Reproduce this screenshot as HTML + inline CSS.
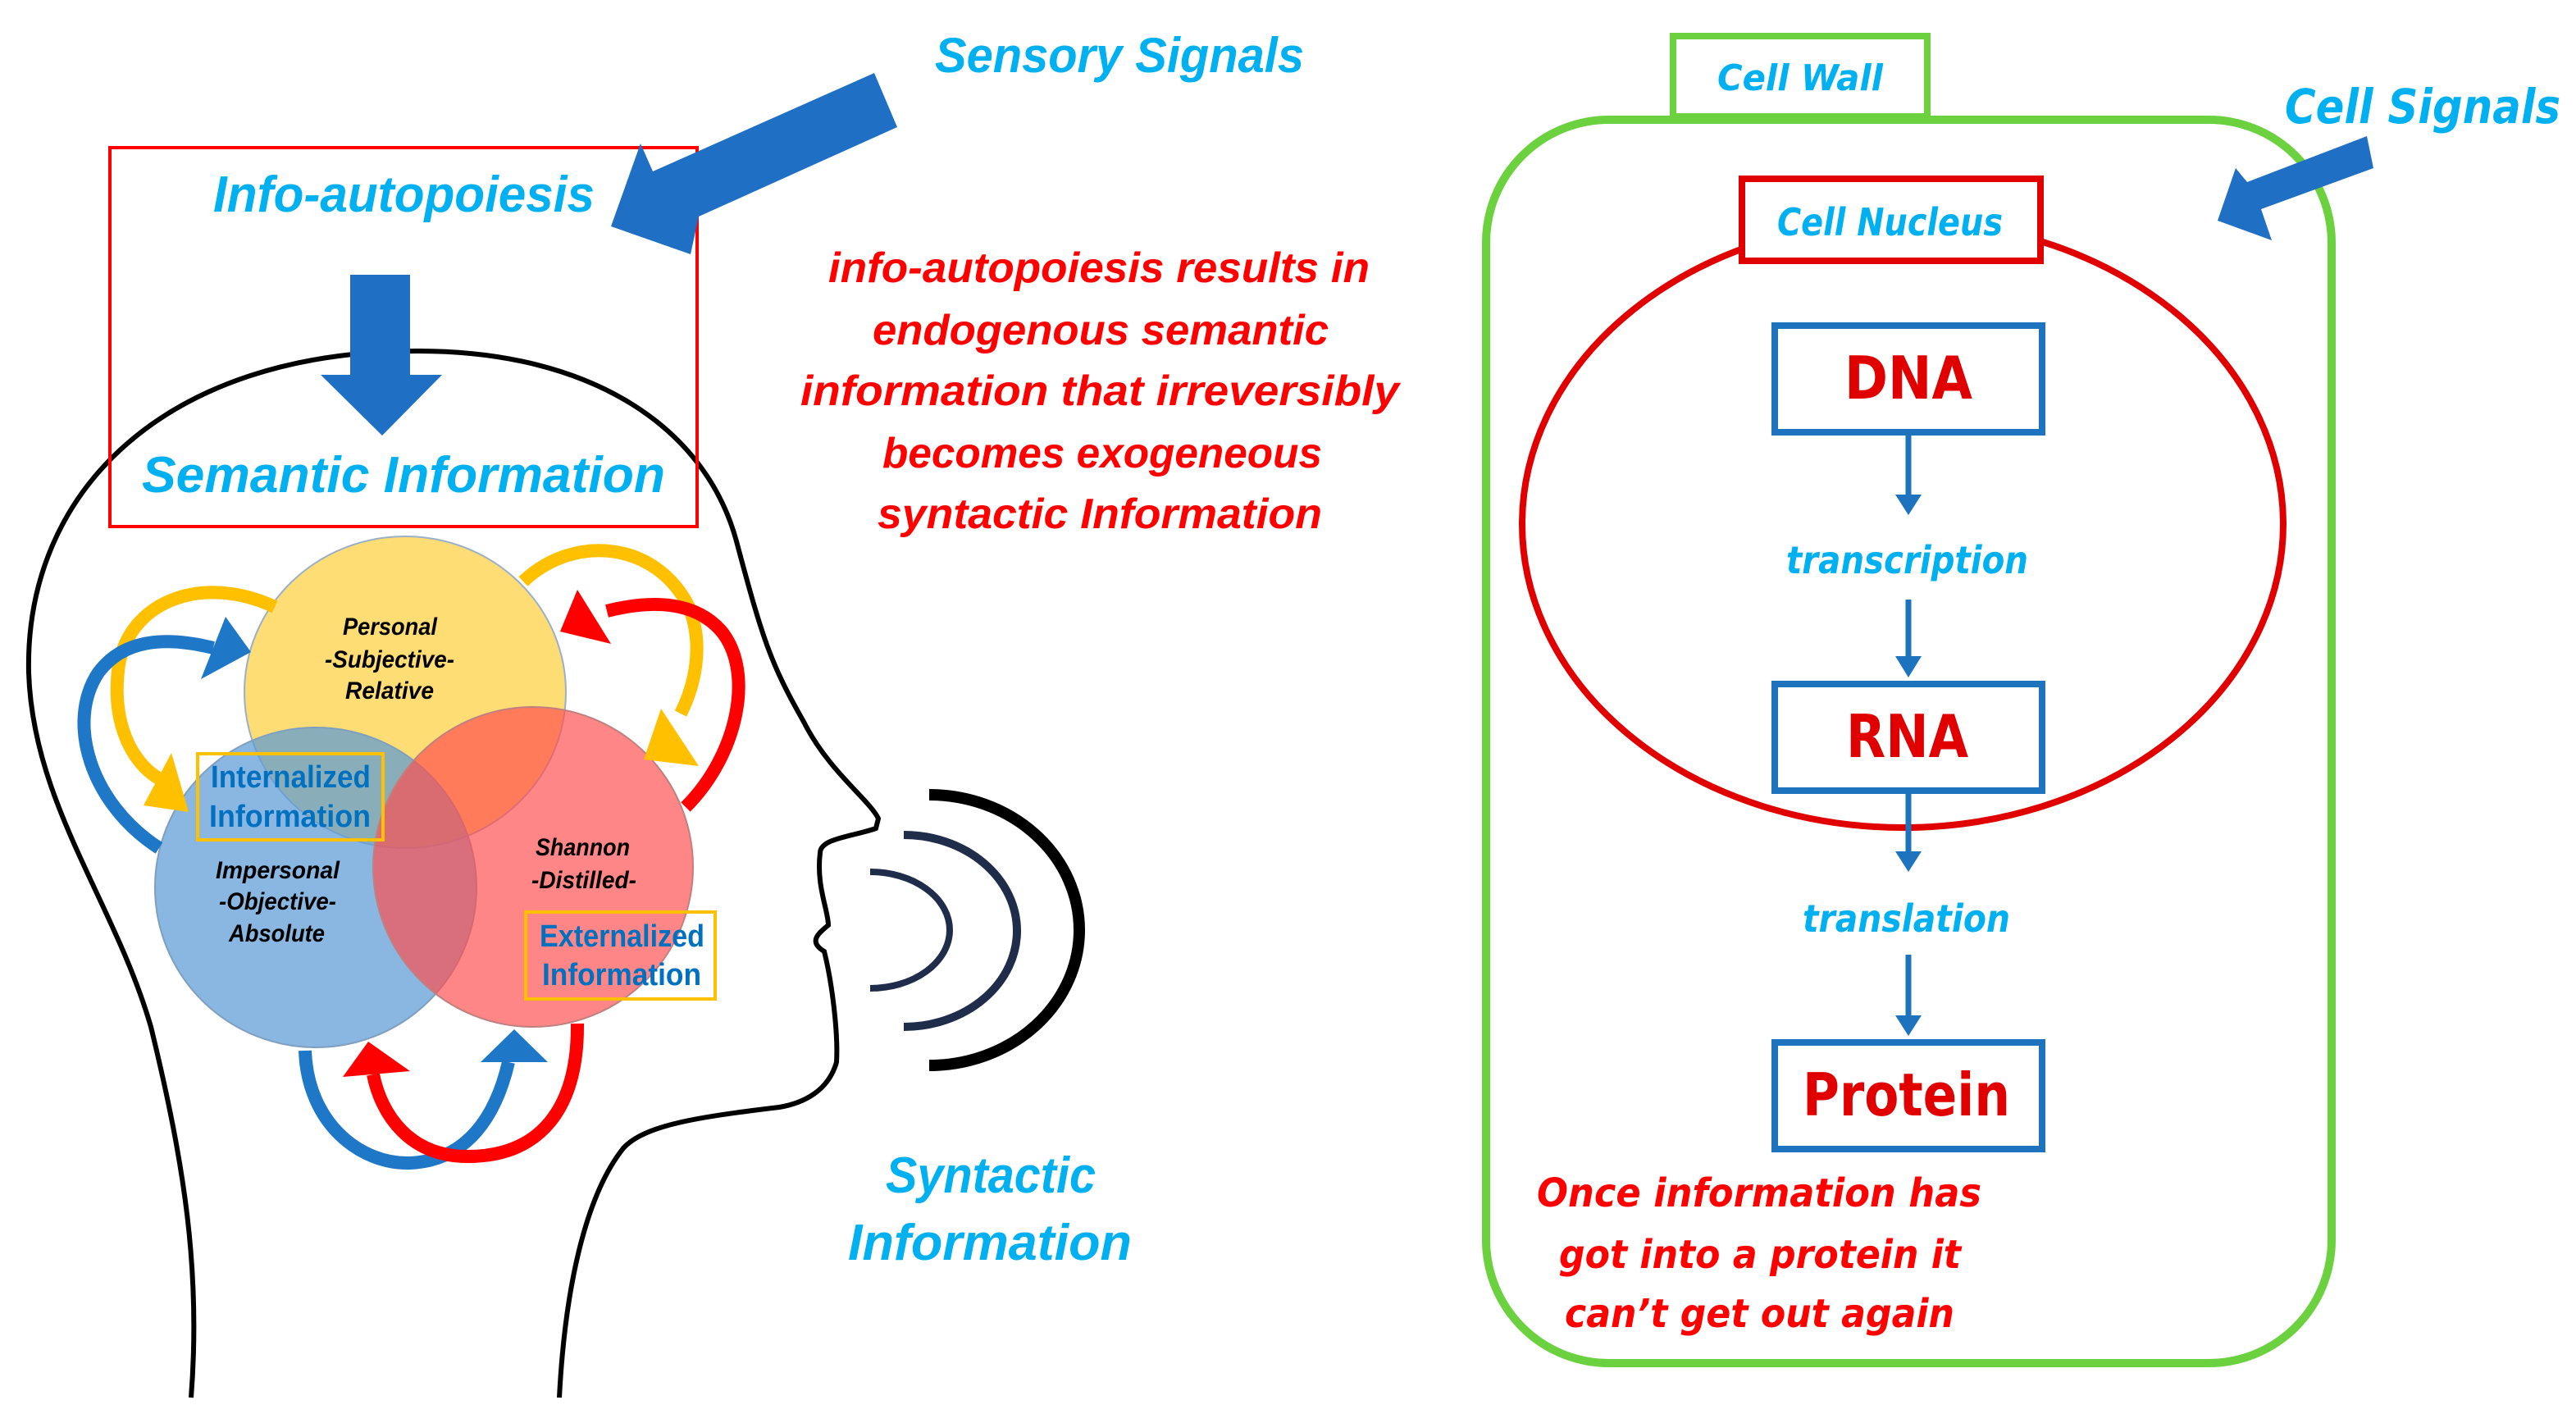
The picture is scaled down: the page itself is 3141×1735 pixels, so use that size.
<!DOCTYPE html>
<html><head><meta charset="utf-8"><style>html,body{margin:0;padding:0;background:#fff}svg{display:block}</style></head>
<body>
<svg width="3141" height="1735" viewBox="0 0 3141 1735" xmlns="http://www.w3.org/2000/svg">
<rect width="3141" height="1735" fill="#fff"/>
<!-- head outline -->
<path d="M233,1704 C245,1550 225,1420 184,1252 C140,1100 40,980 35,820 C30,600 200,428 510,428 C720,428 860,520 898,660 C930,780 940,810 980,880 C1010,940 1060,975 1071,998 L1068,1010 C1040,1020 1000,1022 1000,1040 C995,1080 1010,1110 1010,1128 C998,1138 985,1148 1005,1160 C1015,1200 1022,1260 1020,1295 C1010,1330 980,1345 950,1350 C850,1362 785,1372 760,1400 C720,1450 690,1550 682,1704" fill="none" stroke="#000" stroke-width="6"/>
<!-- red box -->
<rect x="134" y="180" width="716" height="462" fill="none" stroke="#f00" stroke-width="4"/>
<!-- sensory arrow -->
<polygon points="745,276 781,175 796,209 1066,89 1094,155 852,264 842,310" fill="#1f6fc5"/>
<!-- down arrow -->
<polygon points="427,335 500,335 500,457 539,457 466,531 391,457 427,457" fill="#1f6fc5"/>
<g font-family="'Liberation Sans',sans-serif" font-style="italic" font-weight="bold">
<text x="1140" y="88" font-size="60" fill="#00b0f0" textLength="450" lengthAdjust="spacingAndGlyphs">Sensory Signals</text>
<text x="260" y="258" font-size="62" fill="#00b0f0" textLength="465" lengthAdjust="spacingAndGlyphs">Info-autopoiesis</text>
<text x="173" y="600" font-size="62" fill="#00b0f0" textLength="638" lengthAdjust="spacingAndGlyphs">Semantic Information</text>
<g fill="#f00" font-size="52">
<text x="1010" y="344" textLength="660" lengthAdjust="spacingAndGlyphs">info-autopoiesis results in</text>
<text x="1064" y="420" textLength="556" lengthAdjust="spacingAndGlyphs">endogenous semantic</text>
<text x="976" y="494" textLength="730" lengthAdjust="spacingAndGlyphs">information that irreversibly</text>
<text x="1076" y="570" textLength="536" lengthAdjust="spacingAndGlyphs">becomes exogeneous</text>
<text x="1070" y="644" textLength="542" lengthAdjust="spacingAndGlyphs">syntactic Information</text>
</g>
<text x="1080" y="1454" font-size="62" fill="#00b0f0" textLength="256" lengthAdjust="spacingAndGlyphs">Syntactic</text>
<text x="1034" y="1536" font-size="62" fill="#00b0f0" textLength="346" lengthAdjust="spacingAndGlyphs">Information</text>
</g>
<!-- venn -->
<ellipse cx="494" cy="844" rx="196" ry="190" fill="#ffd966" fill-opacity="0.9" stroke="#9bb0c8" stroke-width="2"/>
<ellipse cx="385" cy="1082" rx="196" ry="195" fill="#5b9bd5" fill-opacity="0.72" stroke="#7f9fbf" stroke-width="2"/>
<ellipse cx="650" cy="1057" rx="195" ry="195" fill="#ff4d4d" fill-opacity="0.68" stroke="#c08080" stroke-width="2"/>
<!-- curved arrows -->
<g fill="none" stroke-width="16">
<path d="M335,740 C250,700 160,730 145,810 C135,880 160,930 195,950" stroke="#ffc000"/>
<path d="M638,709 C700,650 800,660 840,740 C860,790 845,840 830,870" stroke="#ffc000"/>
<path d="M194,1034 C110,980 80,880 120,820 C150,780 200,775 260,790" stroke="#1f77c8"/>
<path d="M836,984 C900,920 920,820 880,770 C850,735 800,730 740,745" stroke="#f00"/>
<path d="M372,1281 C375,1370 440,1420 500,1418 C570,1415 605,1360 620,1295" stroke="#1f77c8"/>
<path d="M704,1248 C705,1350 660,1410 570,1410 C500,1410 465,1360 455,1310" stroke="#f00"/>
</g>
<polygon points="209,918 230,990 175,982" fill="#ffc000"/>
<polygon points="806,864 852,934 785,926" fill="#ffc000"/>
<polygon points="275,752 306,795 245,828" fill="#1f77c8"/>
<polygon points="704,719 683,770 745,785" fill="#f00"/>
<polygon points="586,1295 627,1255 668,1295" fill="#1f77c8"/>
<polygon points="418,1313 449,1270 500,1306" fill="#f00"/>
<g font-family="'Liberation Sans',sans-serif" font-style="italic" font-weight="bold" font-size="30" fill="#000">
<text x="418" y="774" textLength="115" lengthAdjust="spacingAndGlyphs">Personal</text>
<text x="396" y="814" textLength="158" lengthAdjust="spacingAndGlyphs">-Subjective-</text>
<text x="421" y="852" textLength="108" lengthAdjust="spacingAndGlyphs">Relative</text>
<text x="263" y="1071" textLength="151" lengthAdjust="spacingAndGlyphs">Impersonal</text>
<text x="267" y="1109" textLength="143" lengthAdjust="spacingAndGlyphs">-Objective-</text>
<text x="279" y="1148" textLength="117" lengthAdjust="spacingAndGlyphs">Absolute</text>
<text x="653" y="1043" textLength="115" lengthAdjust="spacingAndGlyphs">Shannon</text>
<text x="648" y="1083" textLength="128" lengthAdjust="spacingAndGlyphs">-Distilled-</text>
</g>
<rect x="241" y="919" width="226" height="105" fill="none" stroke="#ffc000" stroke-width="4"/>
<rect x="641" y="1112" width="231" height="106" fill="none" stroke="#ffc000" stroke-width="4"/>
<g font-family="'Liberation Sans',sans-serif" font-weight="bold" font-size="38" fill="#0070c0">
<text x="257" y="960" textLength="195" lengthAdjust="spacingAndGlyphs">Internalized</text>
<text x="255" y="1008" textLength="197" lengthAdjust="spacingAndGlyphs">Information</text>
<text x="658" y="1154" textLength="201" lengthAdjust="spacingAndGlyphs">Externalized</text>
<text x="661" y="1201" textLength="194" lengthAdjust="spacingAndGlyphs">Information</text>
</g>
<!-- sound arcs -->
<path d="M1061,1063 A97,71 0 0 1 1061,1205" fill="none" stroke="#1f2d4a" stroke-width="8"/>
<path d="M1102,1018 A138,117 0 0 1 1102,1252" fill="none" stroke="#1f2d4a" stroke-width="10"/>
<path d="M1133,969 A183,165 0 0 1 1133,1299" fill="none" stroke="#000" stroke-width="14"/>

<!-- RIGHT: cell -->
<rect x="1812" y="146" width="1031" height="1516" rx="150" ry="150" fill="none" stroke="#6cd13f" stroke-width="10"/>
<rect x="2040" y="44" width="310" height="98" fill="#fff" stroke="#6cd13f" stroke-width="8"/>
<polygon points="2704,269 2726,205 2740,222 2886,166 2894,205 2757,255 2770,293" fill="#1f6fc5"/>
<ellipse cx="2320" cy="639" rx="464" ry="370" fill="none" stroke="#e00000" stroke-width="8"/>
<rect x="2124" y="218" width="364" height="100" fill="#fff" stroke="#e00000" stroke-width="8"/>
<g fill="none" stroke="#1e73be" stroke-width="8">
<rect x="2164" y="397" width="326" height="130"/>
<rect x="2164" y="834" width="326" height="130"/>
<rect x="2164" y="1271" width="326" height="130"/>
</g>
<g stroke="#1e73be" stroke-width="7">
<line x1="2327" y1="531" x2="2327" y2="605"/>
<line x1="2327" y1="731" x2="2327" y2="802"/>
<line x1="2327" y1="968" x2="2327" y2="1040"/>
<line x1="2327" y1="1164" x2="2327" y2="1240"/>
</g>
<g fill="#1e73be">
<polygon points="2311,603 2343,603 2327,628"/>
<polygon points="2311,800 2343,800 2327,826"/>
<polygon points="2311,1038 2343,1038 2327,1063"/>
<polygon points="2311,1238 2343,1238 2327,1263"/>
</g>
<g font-family="'DejaVu Sans','Liberation Sans',sans-serif" font-weight="bold">
<text x="2786" y="150" font-size="58" font-style="italic" fill="#00b0f0" textLength="336" lengthAdjust="spacingAndGlyphs">Cell Signals</text>
<text x="2094" y="110" font-size="44" font-style="italic" fill="#00b0f0" textLength="202" lengthAdjust="spacingAndGlyphs">Cell Wall</text>
<text x="2167" y="287" font-size="46" font-style="italic" fill="#00b0f0" textLength="275" lengthAdjust="spacingAndGlyphs">Cell Nucleus</text>
<text x="2249" y="486" font-size="72" fill="#e00000" textLength="156" lengthAdjust="spacingAndGlyphs">DNA</text>
<text x="2251" y="923" font-size="72" fill="#e00000" textLength="149" lengthAdjust="spacingAndGlyphs">RNA</text>
<text x="2198" y="1360" font-size="72" fill="#e00000" textLength="253" lengthAdjust="spacingAndGlyphs">Protein</text>
<text x="2178" y="699" font-size="46" font-style="italic" fill="#00b0f0" textLength="295" lengthAdjust="spacingAndGlyphs">transcription</text>
<text x="2198" y="1136" font-size="46" font-style="italic" fill="#00b0f0" textLength="253" lengthAdjust="spacingAndGlyphs">translation</text>
<g font-size="48" font-style="italic" fill="#f00">
<text x="1874" y="1471" textLength="542" lengthAdjust="spacingAndGlyphs">Once information has</text>
<text x="1901" y="1546" textLength="490" lengthAdjust="spacingAndGlyphs">got into a protein it</text>
<text x="1908" y="1618" textLength="475" lengthAdjust="spacingAndGlyphs">can’t get out again</text>
</g>
</g>
</svg>
</body></html>
